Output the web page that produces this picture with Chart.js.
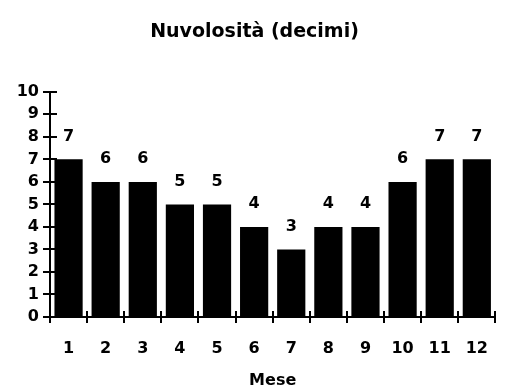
<!DOCTYPE html>
<html>
<head>
<meta charset="utf-8">
<script src="https://cdn.jsdelivr.net/npm/chart.js@4/dist/chart.umd.min.js"></script>
<style>
  html, body { margin: 0; padding: 0; background: #fff; }
  #wrap { width: 510px; height: 390px; }
</style>
</head>
<body>
<div id="wrap"><canvas id="chart"></canvas></div>
<script>
const mesi = ['1', '2', '3', '4', '5', '6', '7', '8', '9', '10', '11', '12'];
const nuvolosita = [7, 6, 6, 5, 5, 4, 3, 4, 4, 6, 7, 7];
const yMin = 0;
const yMax = 10;

const FONT = "'DejaVu Sans', sans-serif";

// numbers above each bar
const barLabels = {
  id: 'barLabels',
  afterDatasetsDraw(chart) {
    const ctx = chart.ctx;
    const meta = chart.getDatasetMeta(0);
    ctx.save();
    ctx.font = 'bold 16px ' + FONT;
    ctx.fillStyle = '#000';
    ctx.textAlign = 'center';
    ctx.textBaseline = 'middle';
    meta.data.forEach((bar, i) => {
      ctx.fillText(String(nuvolosita[i]), bar.x, bar.y - 23);
    });
    ctx.restore();
  }
};

// tick marks crossing the axes (Excel style)
const crossTicks = {
  id: 'crossTicks',
  afterDraw(chart) {
    const ctx = chart.ctx;
    const x = chart.scales.x;
    const y = chart.scales.y;
    const area = chart.chartArea;
    ctx.save();
    ctx.strokeStyle = '#000';
    ctx.lineWidth = 2;
    ctx.beginPath();
    for (let v = yMin; v <= yMax; v++) {
      const py = Math.round(y.getPixelForValue(v));
      ctx.moveTo(area.left - 7, py);
      ctx.lineTo(area.left + 7, py);
    }
    for (let i = 0; i <= mesi.length; i++) {
      const px = Math.round(x.getPixelForValue(i - 0.5));
      ctx.moveTo(px, area.bottom - 6);
      ctx.lineTo(px, area.bottom + 6);
    }
    ctx.stroke();
    ctx.restore();
  }
};

new Chart(document.getElementById('chart'), {
  type: 'bar',
  data: {
    labels: mesi,
    datasets: [{
      label: 'Nuvolosità',
      data: nuvolosita,
      backgroundColor: '#000',
      borderWidth: 0,
      barPercentage: 0.76,
      categoryPercentage: 1
    }]
  },
  options: {
    responsive: true,
    maintainAspectRatio: false,
    animation: false,
    layout: { padding: { left: 0, right: 1, top: 0, bottom: 0 } },
    plugins: {
      legend: { display: false },
      tooltip: { enabled: false },
      title: {
        display: true,
        text: 'Nuvolosità (decimi)',
        color: '#000',
        font: { family: FONT, size: 19, weight: 'bold', lineHeight: 1.2 },
        padding: { top: 21, bottom: 48 }
      }
    },
    scales: {
      x: {
        offset: true,
        grid: { display: true, drawOnChartArea: false, drawTicks: false, offset: true },
        border: { display: true, color: '#000', width: 2 },
        ticks: {
          color: '#000',
          font: { family: FONT, size: 16, weight: 'bold' },
          padding: 22,
          maxRotation: 0,
          autoSkip: false
        },
        title: {
          display: true,
          text: 'Mese',
          color: '#000',
          font: { family: FONT, size: 16, weight: 'bold', lineHeight: 1.2 },
          padding: { top: 0, bottom: 0 }
        },
        afterFit(scale) { scale.height = 73; }
      },
      y: {
        min: yMin,
        max: yMax,
        grid: { display: true, drawOnChartArea: false, drawTicks: false },
        border: { display: true, color: '#000', width: 2 },
        ticks: {
          stepSize: 1,
          color: '#000',
          font: { family: FONT, size: 16, weight: 'bold' },
          padding: 11
        },
        afterFit(scale) { scale.width = 50; }
      }
    }
  },
  plugins: [barLabels, crossTicks]
});
</script>
</body>
</html>
